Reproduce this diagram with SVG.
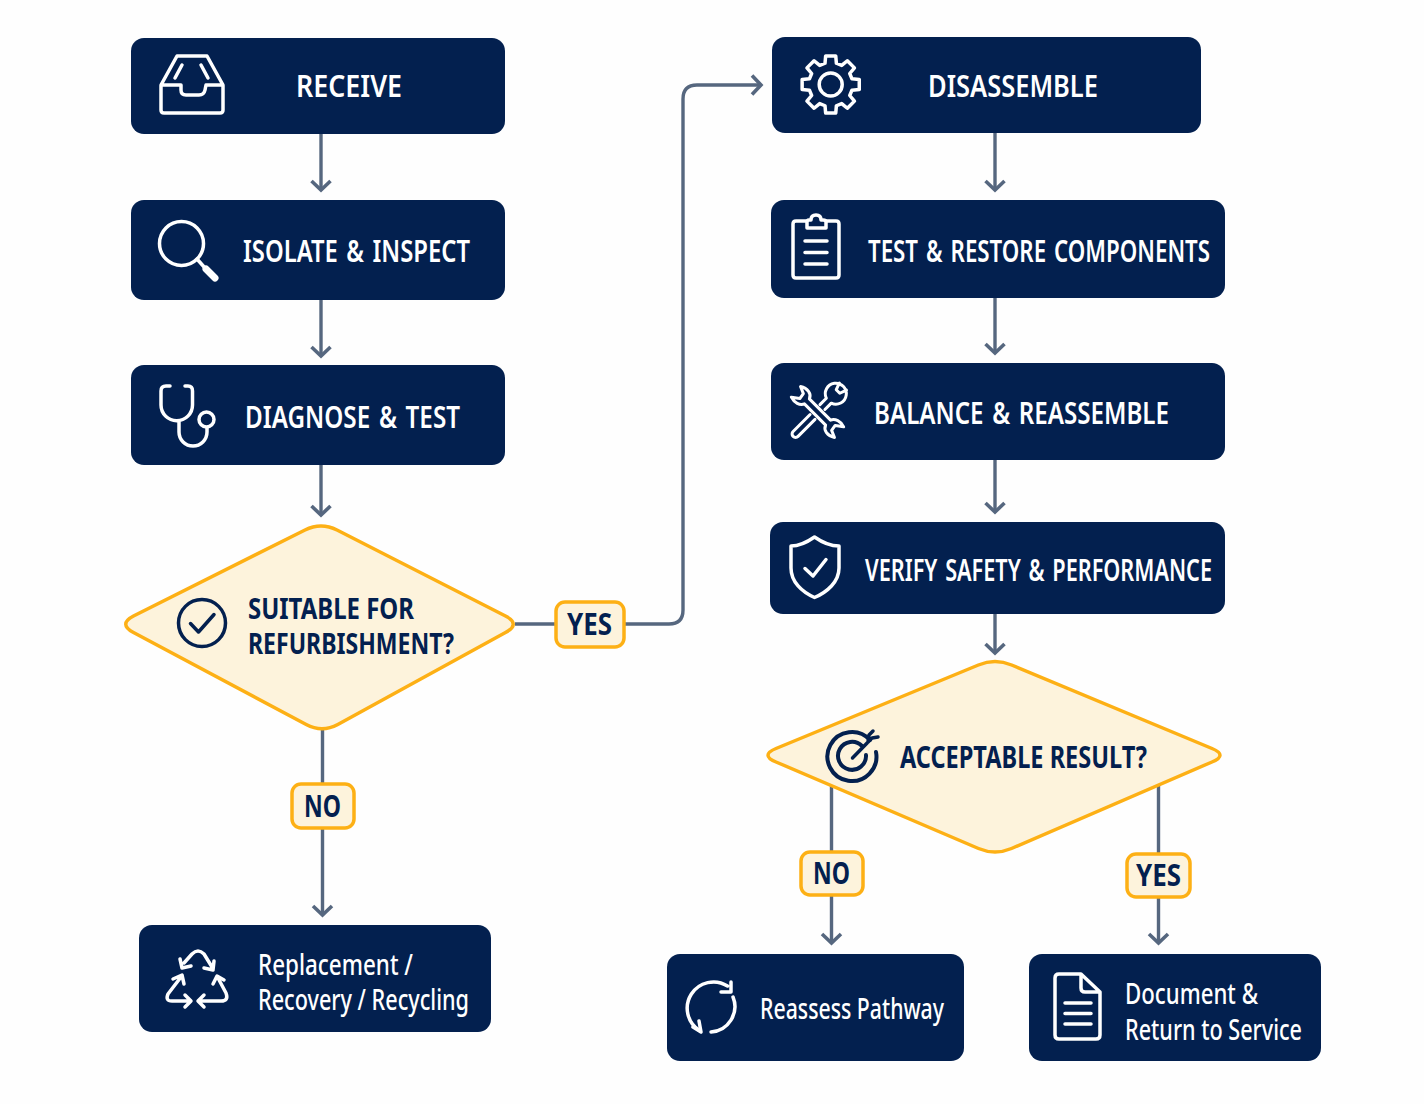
<svg xmlns="http://www.w3.org/2000/svg" width="1424" height="1104" viewBox="0 0 1424 1104">
<style>
.box{fill:#03204f}
.dia{fill:#fdf3dc;stroke:#fdb015;stroke-width:3.5}
.tag{fill:#fdf3dc;stroke:#fdb015;stroke-width:3.5}
.ic{fill:none;stroke:#fff;stroke-width:3.5;stroke-linecap:round;stroke-linejoin:round}
.icd{fill:none;stroke:#03204f;stroke-width:3.5;stroke-linecap:round;stroke-linejoin:round}
.c{fill:none;stroke:#56677f;stroke-width:3.4;marker-end:url(#arr)}
.p{fill:none;stroke:#56677f;stroke-width:3.4}
text{font-family:"Noto Sans","Liberation Sans",sans-serif;font-weight:600}
.w{fill:#fff;font-size:30.5px;word-spacing:3px}
.l{fill:#fff;font-size:28px;font-weight:500}
.n{fill:#03204f;font-size:30.5px;font-weight:700}
.q{font-size:28.500px}
</style>
<defs>
<marker id="arr" markerUnits="userSpaceOnUse" viewBox="-12 -12 15 24" refX="0" refY="0" markerWidth="15" markerHeight="24" orient="auto">
<path d="M-9 -9.500L0 0L-9 9.500" fill="none" stroke="#56677f" stroke-width="3.600"/>
</marker>
</defs>
<rect width="1424" height="1104" fill="#fefefe"/>
<g id="connectors">
<path class="c" d="M321 134V190"/>
<path class="c" d="M321 300V356"/>
<path class="c" d="M321 465V515"/>
<path class="p" d="M515 624H556"/>
<path class="c" d="M624 624H669Q683 624 683 610V99Q683 85 697 85H761"/>
<path class="p" d="M322.500 730V784"/>
<path class="c" d="M322.500 828V915"/>
<path class="c" d="M995 133V190"/>
<path class="c" d="M995 298V353"/>
<path class="c" d="M995 460V512"/>
<path class="c" d="M995 614V653"/>
<path class="p" d="M831.500 784V852"/>
<path class="c" d="M831.500 895V943"/>
<path class="p" d="M1158.500 784V854"/>
<path class="c" d="M1158.500 897V943"/>
</g>
<g id="receive">
<rect class="box" x="131" y="38" width="374" height="96" rx="13"/>
<path class="ic" d="M161 85H181V90Q181 95 186 95H199Q204 95 205 90L206 85H223V110Q223 113 220 113H164Q161 113 161 110ZM161 85L177 56H207L223 85M182 65L175 78M201 65L208 78"/>
<text class="w" x="296" y="97" textLength="106" lengthAdjust="spacingAndGlyphs">RECEIVE</text>
</g>
<g id="isolate">
<rect class="box" x="131" y="200" width="374" height="100" rx="13"/>
<circle class="ic" cx="181.500" cy="243.500" r="22"/>
<path class="ic" d="M197 259L205 268"/>
<path class="ic" style="stroke-width:7" d="M206 269L215 278"/>
<text class="w" x="243" y="262" textLength="227" lengthAdjust="spacingAndGlyphs">ISOLATE &amp; INSPECT</text>
</g>
<g id="diagnose">
<rect class="box" x="131" y="365" width="374" height="100" rx="13"/>
<path class="ic" d="M170 386H166Q161 386 161 391V405A15.700 15.700 0 0 0 192.500 405V391Q192.500 386 188 386H185M179 421V432A14 14 0 0 0 207 432V428"/>
<circle class="ic" cx="206.500" cy="419.500" r="7.500"/>
<text class="w" x="245" y="428" textLength="215" lengthAdjust="spacingAndGlyphs">DIAGNOSE &amp; TEST</text>
</g>
<g id="suitable">
<path class="dia" d="M133.500 616L305 530Q321 522 337 530L505.500 616Q521 624 505.500 632.500L337.800 724.500Q322 733 306.200 724.500L133.500 632.500Q118 624 133.500 616Z"/>
<circle class="icd" cx="202" cy="623" r="23.500"/>
<path class="icd" d="M190.500 623.500L198.500 632L214 614.500"/>
<text class="n q"><tspan x="248" y="619" textLength="166" lengthAdjust="spacingAndGlyphs">SUITABLE FOR</tspan><tspan x="248" y="654" textLength="206" lengthAdjust="spacingAndGlyphs">REFURBISHMENT?</tspan></text>
</g>
<g id="label-yes-1">
<rect class="tag" x="556" y="602" width="68" height="45" rx="9"/>
<text class="n" x="567" y="635" textLength="45" lengthAdjust="spacingAndGlyphs">YES</text>
</g>
<g id="label-no-1">
<rect class="tag" x="292" y="784" width="62" height="44" rx="9"/>
<text class="n" x="304" y="817" textLength="37" lengthAdjust="spacingAndGlyphs">NO</text>
</g>
<g id="replacement">
<rect class="box" x="139" y="925" width="352" height="107" rx="13"/>
<path class="ic" d="M184 963L192 954Q198 948 204 954L212 967M180 959L182 968L191 966M204 968L213 970L214 961"/>
<path class="ic" d="M181 977L168 994Q165 1001 172 1001H190M173 979L182 975L184 984M185 995L191 1001L185 1007"/>
<path class="ic" d="M218 978L226 993Q229 1001 221 1001H199M213 984L217 976L224 980M204 995L198 1001L204 1007"/>
<text class="l"><tspan x="258" y="975" textLength="155" lengthAdjust="spacingAndGlyphs">Replacement /</tspan><tspan x="258" y="1010" textLength="211" lengthAdjust="spacingAndGlyphs">Recovery / Recycling</tspan></text>
</g>
<g id="disassemble">
<rect class="box" x="772" y="37" width="429" height="96" rx="13"/>
<path class="ic" transform="translate(830.700 84.500)" d="M-5.690 -21.250L-5.040 -28.560L5.040 -28.560L5.690 -21.250L11 -19.050L16.630 -23.760L23.760 -16.630L19.050 -11L21.250 -5.690L28.560 -5.040L28.560 5.040L21.250 5.690L19.050 11L23.760 16.630L16.630 23.760L11 19.050L5.690 21.250L5.040 28.560L-5.040 28.560L-5.690 21.250L-11 19.050L-16.630 23.760L-23.760 16.630L-19.050 11L-21.250 5.690L-28.560 5.040L-28.560 -5.040L-21.250 -5.690L-19.050 -11L-23.760 -16.630L-16.630 -23.760L-11 -19.050Z"/>
<circle class="ic" cx="830.700" cy="84.500" r="11.500"/>
<text class="w" x="928" y="97" textLength="170" lengthAdjust="spacingAndGlyphs">DISASSEMBLE</text>
</g>
<g id="test-restore">
<rect class="box" x="771" y="200" width="454" height="98" rx="13"/>
<path class="ic" d="M806 221H796Q793 221 793 224V275Q793 278 796 278H836Q839 278 839 275V224Q839 221 836 221H826"/>
<path class="ic" d="M807 228V222Q807 220 809 220H811Q811 215 816 215Q821 215 821 220H823Q826 220 826 222V228Z"/>
<path class="ic" d="M805 241H827M805 252.500H827M805 264H827"/>
<text class="w" x="868" y="262" textLength="342" lengthAdjust="spacingAndGlyphs">TEST &amp; RESTORE COMPONENTS</text>
</g>
<g id="balance">
<rect class="box" x="771" y="363" width="454" height="97" rx="13"/>
<g transform="translate(817.500 412) rotate(45)">
<path class="ic" style="stroke-width:3" d="M-15 -3.500H15C17 -8 23 -10 29 -8L22 -3L23 3L30 6C24 10 17 9 15 3.500H-15C-17 8 -23 10 -29 8L-22 3L-23 -3L-30 -6C-24 -10 -17 -9 -15 -3.500Z"/>
</g>
<g transform="translate(817.500 412) rotate(-45)">
<path class="ic" style="stroke-width:3" d="M-7 -3.500H-31A3.500 3.500 0 0 0 -31 3.500H-7M7 -3.500H16A10.500 10.500 0 1 1 16 3.500H7M36 -5L29 -2.500V2.500L36 5"/>
</g>
<text class="w" x="874" y="424" textLength="295" lengthAdjust="spacingAndGlyphs">BALANCE &amp; REASSEMBLE</text>
</g>
<g id="verify">
<rect class="box" x="770" y="522" width="455" height="92" rx="13"/>
<path class="ic" d="M814.500 537C806 543 798 546 791 546V568C791 582 802 592 814.500 597.500C827 592 839 582 839 568V546C831 546 823 543 814.500 537Z"/>
<path class="ic" d="M805 568.500L813 576L826 559.500"/>
<text class="w" x="865" y="581" textLength="347" lengthAdjust="spacingAndGlyphs">VERIFY SAFETY &amp; PERFORMANCE</text>
</g>
<g id="acceptable">
<path class="dia" d="M776 748.500L978.400 665Q995 658 1011.600 665L1212 748.500Q1228 755 1212 762L1011.500 848.500Q995 855.500 978.500 848.500L776 762Q760 755 776 748.500Z"/>
<path class="icd" style="stroke-width:4" d="M870 740A24.500 24.500 0 1 0 876 752"/>
<path class="icd" style="stroke-width:4" d="M862 746A14 14 0 1 0 866 755"/>
<path class="icd" d="M852.500 758L872 738M868 742L869 735L873 731M872 738L878 737"/>
<text class="n" x="900" y="768" textLength="247" lengthAdjust="spacingAndGlyphs">ACCEPTABLE RESULT?</text>
</g>
<g id="label-no-2">
<rect class="tag" x="801" y="852" width="62" height="43" rx="9"/>
<text class="n" x="813" y="884" textLength="37" lengthAdjust="spacingAndGlyphs">NO</text>
</g>
<g id="label-yes-2">
<rect class="tag" x="1127" y="854" width="63" height="43" rx="9"/>
<text class="n" x="1136" y="886" textLength="45" lengthAdjust="spacingAndGlyphs">YES</text>
</g>
<g id="reassess">
<rect class="box" x="667" y="954" width="297" height="107" rx="13"/>
<g transform="translate(-3 -1)">
<path class="ic" d="M702.500 1031.500A25.500 25.500 0 0 1 730.500 987M734 983V993H724"/>
<path class="ic" d="M736 998A25.500 25.500 0 0 1 714 1033M696 1028L704 1033L702 1022"/>
</g>
<text class="l" x="760" y="1019" textLength="184" lengthAdjust="spacingAndGlyphs">Reassess Pathway</text>
</g>
<g id="document">
<rect class="box" x="1029" y="954" width="292" height="107" rx="13"/>
<path class="ic" d="M1059 974H1081L1100 992V1035Q1100 1039 1096 1039H1059Q1055 1039 1055 1035V978Q1055 974 1059 974ZM1081 974V988Q1081 992 1085 992H1100"/>
<path class="ic" d="M1065 1003H1091M1065 1013.500H1091M1065 1024H1091"/>
<text class="l"><tspan x="1125" y="1004" textLength="133" lengthAdjust="spacingAndGlyphs">Document &amp;</tspan><tspan x="1125" y="1040" textLength="177" lengthAdjust="spacingAndGlyphs">Return to Service</tspan></text>
</g>
</svg>
